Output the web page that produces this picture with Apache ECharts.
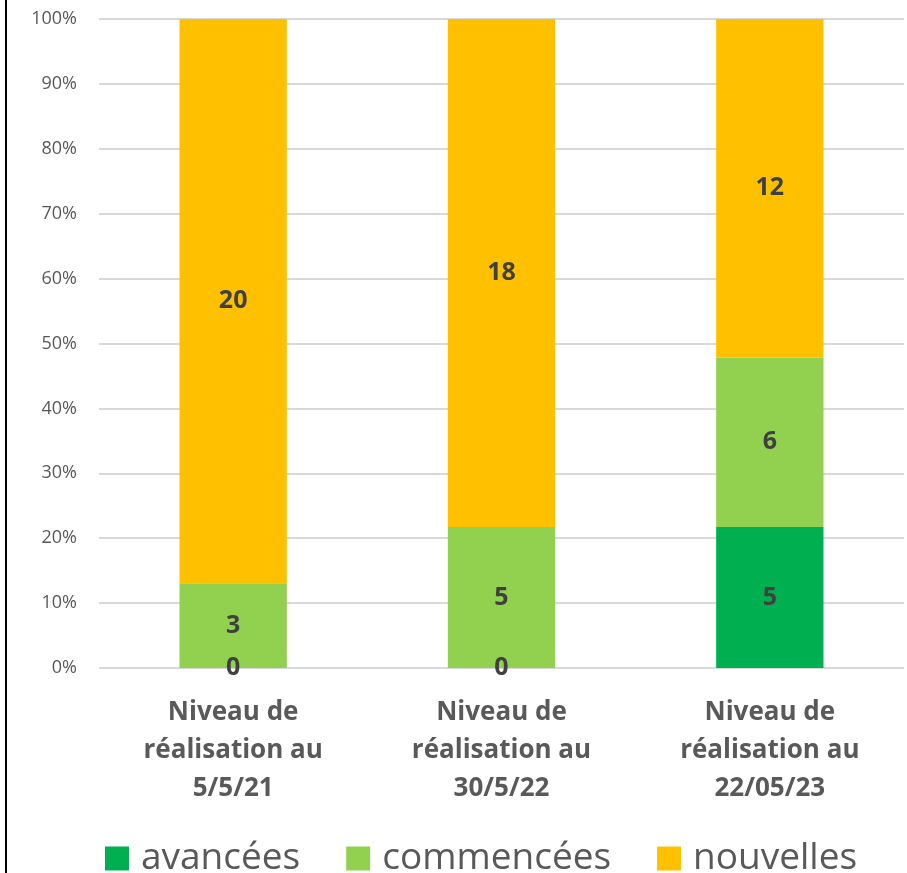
<!DOCTYPE html>
<html>
<head>
<meta charset="utf-8">
<script src="https://cdn.jsdelivr.net/npm/echarts@6/dist/echarts.min.js"></script>
<style>
  html, body { margin: 0; padding: 0; background: #fff; }
  #chart { width: 907px; height: 873px; }
</style>
</head>
<body>
<div id="chart"></div>
<script>
var categories = ['Niveau de\nréalisation au\n5/5/21', 'Niveau de\nréalisation au\n30/5/22', 'Niveau de\nréalisation au\n22/05/23'];
var avancees = [0, 0, 5];
var commencees = [3, 5, 6];
var nouvelles = [20, 18, 12];

var totals = categories.map(function (c, i) {
  return avancees[i] + commencees[i] + nouvelles[i];
});

function toPercent(arr) {
  return arr.map(function (v, i) {
    return { value: v / totals[i] * 100, raw: v };
  });
}

var chart = echarts.init(document.getElementById('chart'));
var font = 'Open Sans';

function makeSeries(name, arr, color) {
  return {
    name: name,
    type: 'bar',
    stack: 'total',
    barWidth: '40%',
    data: toPercent(arr),
    itemStyle: { color: color },
    label: {
      show: true,
      position: 'inside',
      fontFamily: font,
      fontWeight: 'bold',
      fontSize: 25,
      color: '#404040',
      formatter: function (p) { return p.data.raw; }
    }
  };
}

var option = {
  animation: false,
  textStyle: { fontFamily: font },
  grid: { left: 99, right: 3, top: 19, bottom: 205 },
  legend: {
    bottom: -9,
    left: 100,
    itemWidth: 24,
    itemHeight: 24,
    itemGap: 46,
    icon: 'rect',
    textStyle: { fontSize: 37, color: '#595959', fontFamily: font, padding: [0, 0, 0, 7] },
    data: ['avancées', 'commencées', 'nouvelles']
  },
  xAxis: {
    type: 'category',
    data: categories,
    axisLine: { show: false },
    axisTick: { show: false },
    axisLabel: {
      margin: 26,
      fontSize: 26,
      fontWeight: 'bold',
      color: '#595959',
      lineHeight: 38,
      fontFamily: font,
      interval: 0
    }
  },
  yAxis: {
    type: 'value',
    min: 0,
    max: 100,
    interval: 10,
    axisLine: { show: false },
    axisTick: { show: false },
    axisLabel: {
      formatter: '{value}%',
      fontSize: 18,
      color: '#595959',
      margin: 22,
      fontFamily: font
    },
    splitLine: { lineStyle: { color: '#d9d9d9', width: 2 } }
  },
  graphic: [{
    type: 'line',
    shape: { x1: 6, y1: 0, x2: 6, y2: 873 },
    style: { stroke: '#000', lineWidth: 2 }
  }],
  series: [
    makeSeries('avancées', avancees, '#00b050'),
    makeSeries('commencées', commencees, '#92d050'),
    makeSeries('nouvelles', nouvelles, '#ffc000')
  ]
};

chart.setOption(option);
</script>
</body>
</html>
